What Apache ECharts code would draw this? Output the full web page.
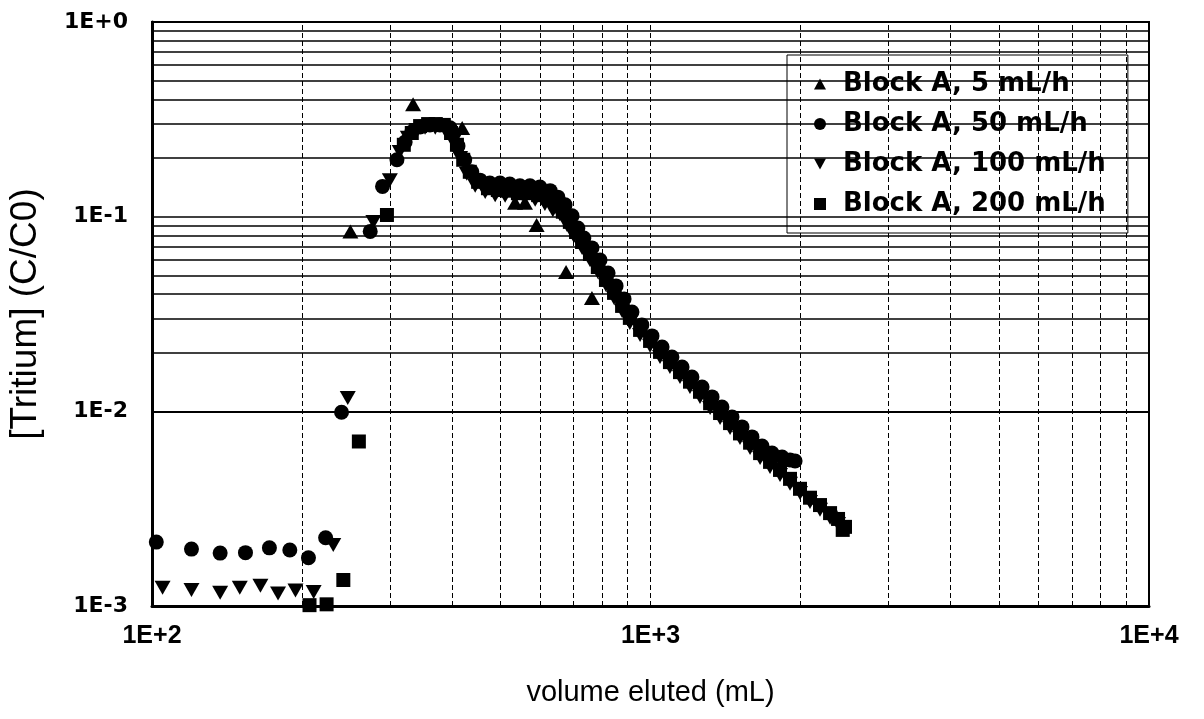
<!DOCTYPE html>
<html>
<head>
<meta charset="utf-8">
<script src="https://cdn.jsdelivr.net/npm/echarts@6/dist/echarts.min.js"></script>
<style>
html,body{margin:0;padding:0;background:#fff;}
#chart{width:1204px;height:719px;}
</style>
</head>
<body>
<div id="chart"></div>
<script>
// ---- data (volume eluted mL, C/C0) ----
const seriesNames = ['Block A, 5 mL/h', 'Block A, 50 mL/h', 'Block A, 100 mL/h', 'Block A, 200 mL/h'];

const blockA5 = [[250,0.0838],[334,0.378],[419,0.2855],[535,0.118],[560,0.118],[591,0.0907],[677,0.052],[763,0.0382]];

const blockA50 = [[102,0.00213],[120,0.00196],[137,0.00187],[154,0.00188],[172,0.00199],[189,0.00194],[206,0.00177],[223,0.00224],
  [240,0.0099],[274,0.084],[290,0.143],[310,0.196],[322,0.242],[332,0.272],[345,0.289],[361,0.296],[378,0.296],[396,0.286],
  [411,0.231],[424,0.196],[438,0.170],[455,0.154],[476,0.149],[499,0.149],[522,0.147],[547,0.144],[573,0.144],[600,0.142],
  [629,0.136],[652,0.126],[674,0.115],[696,0.101],[715,0.0875],[735,0.0777],[763,0.0691],[792,0.0599],[822,0.0514],[853,0.0441],
  [885,0.0378],[918,0.0324],[961,0.0278],[1007,0.0244],[1055,0.0214],[1104,0.0190],[1157,0.0169],[1211,0.0150],[1269,0.01334],
  [1329,0.01186],[1391,0.01053],[1457,0.00936],[1526,0.00832],[1598,0.00739],[1674,0.00664],[1753,0.00611],[1836,0.00583],
  [1905,0.00563],[1950,0.00556]];

const blockA100 = [[105,0.00124],[120,0.00121],[137,0.00117],[150,0.00124],[165,0.00127],[179,0.00116],[194,0.0012],[211,0.00118],
  [231,0.00206],[247,0.0117],[278,0.094],[300,0.154],[314,0.215],[326,0.254],[339,0.279],[353,0.286],[370,0.286],[387,0.279],
  [402,0.242],[415,0.200],[428,0.166],[445,0.144],[466,0.134],[488,0.129],[511,0.128],[535,0.125],[560,0.125],[587,0.122],
  [614,0.116],[637,0.108],[658,0.103],[680,0.0907],[702,0.0796],[729,0.0691],[756,0.0599],[784,0.052],[814,0.0446],[845,0.0382],
  [877,0.0328],[909,0.0284],[953,0.0247],[998,0.0217],[1045,0.0190],[1094,0.0169],[1146,0.0150],[1200,0.01334],[1257,0.01186],
  [1317,0.01041],[1379,0.00925],[1444,0.00822],[1512,0.0073],[1584,0.00649],[1659,0.00576],[1737,0.00518],[1819,0.00471],
  [1905,0.00424],[1995,0.00381],[2089,0.00342],[2188,0.00312],[2292,0.00284],[2378,0.00264]];

const blockA200 = [[207,0.00101],[224,0.00102],[242,0.00136],[260,0.0070],[296,0.102],[320,0.234],[332,0.269],[345,0.292],
  [358,0.299],[371,0.299],[385,0.296],[398,0.269],[409,0.234],[421,0.196],[434,0.170],[451,0.151],[472,0.140],[494,0.137],
  [518,0.136],[542,0.132],[568,0.132],[595,0.129],[623,0.125],[646,0.116],[667,0.106],[689,0.094],[709,0.0834],[729,0.0741],
  [756,0.0643],[784,0.0551],[814,0.0473],[845,0.0406],[877,0.0348],[909,0.0302],[953,0.0262],[998,0.0230],[1045,0.0202],
  [1094,0.0179],[1146,0.0159],[1200,0.0142],[1257,0.0126],[1317,0.0110],[1379,0.0098],[1444,0.0087],[1512,0.0077],[1584,0.0069],
  [1659,0.0061],[1737,0.0055],[1819,0.0050],[1905,0.0045],[1995,0.0040],[2089,0.0036],[2188,0.0033],[2292,0.0030],[2378,0.0028],
  [2430,0.00246],[2456,0.00255]];

// axis tick / grid values
const xGridValues = [200,300,400,500,600,700,800,900,1000,2000,3000,4000,5000,6000,7000,8000,9000];
const yGridValues = [0.002,0.003,0.004,0.005,0.006,0.007,0.008,0.009,0.01,0.02,0.03,0.04,0.05,0.06,0.07,0.08,0.09,0.1,0.2,0.3,0.4,0.5,0.6,0.7,0.8,0.9];
const xTickLabels = {100:'1E+2', 1000:'1E+3', 10000:'1E+4'};
const yTickLabels = {1:'1E+0', 0.1:'1E-1', 0.01:'1E-2', 0.001:'1E-3'};

// ---- chart ----
const chart = echarts.init(document.getElementById('chart'), null, {renderer:'canvas'});
const downTri = 'path://M0,0 L10,0 L5,9 Z';
const upTri = 'path://M5,0 L10,9 L0,9 Z';

function fmt(map){
  return function(v){
    for (const k in map){ if (Math.abs(Math.log10(v) - Math.log10(+k)) < 1e-6) return map[k]; }
    return '';
  };
}
const mark = {color:'#000', opacity:1};

const option = {
  animation:false,
  backgroundColor:'#fff',
  grid:{left:152, top:22, width:997, height:584, show:true, borderColor:'#000', borderWidth:2, backgroundColor:'#fff',
        containLabel:false, outerBoundsMode:'none'},
  legend:{
    data:[
      {name:seriesNames[0], icon:upTri},
      {name:seriesNames[1], icon:'circle'},
      {name:seriesNames[2], icon:downTri},
      {name:seriesNames[3], icon:'rect'}
    ],
    orient:'vertical', left:787, top:55,
    padding:[16,22,16,27],
    itemWidth:12, itemHeight:12, itemGap:14,
    backgroundColor:'#fff', borderColor:'#000', borderWidth:1,
    textStyle:{fontFamily:'DejaVu Sans', fontWeight:'bold', fontSize:26, color:'#000', lineHeight:26, padding:[0,0,0,12]},
    selectedMode:false
  },
  xAxis:{
    type:'log', logBase:10, min:100, max:10000,
    axisLine:{show:true, lineStyle:{color:'#000', width:3}},
    axisTick:{show:false},
    splitLine:{show:false},
    axisLabel:{formatter:fmt(xTickLabels), fontFamily:'Liberation Sans', fontWeight:'bold', fontSize:25, color:'#000', margin:18, showMinLabel:true, showMaxLabel:true},
    name:'volume eluted (mL)', nameLocation:'middle', nameGap:72,
    nameTextStyle:{fontFamily:'Liberation Sans', fontSize:29, color:'#000'}
  },
  yAxis:{
    type:'log', logBase:10, min:0.001, max:1,
    axisLine:{show:true, lineStyle:{color:'#000', width:3}},
    axisTick:{show:false},
    splitLine:{show:false},
    axisLabel:{formatter:fmt(yTickLabels), fontFamily:'DejaVu Sans', fontWeight:'bold', fontSize:22, color:'#000', margin:24},
    name:'[Tritium] (C/C0)', nameLocation:'middle', nameGap:108, nameRotate:90,
    nameTextStyle:{fontFamily:'Liberation Sans', fontSize:37, color:'#000'}
  },
  series:[
    {
      type:'scatter', name:'grid', data:[], silent:true, z:1,
      markLine:{
        silent:true, symbol:['none','none'], label:{show:false}, animation:false,
        data: xGridValues.map(v=>({xAxis:v, lineStyle:{color:'#000', width:1, type:[5,3]}}))
          .concat(yGridValues.map(v=>({yAxis:v, lineStyle:{color:'#000', width:1.5, type:'solid'}})))
      }
    },
    {type:'scatter', name:seriesNames[0], data:blockA5, symbol:upTri, symbolSize:[16,14], itemStyle:mark, z:3},
    {type:'scatter', name:seriesNames[1], data:blockA50, symbol:'circle', symbolSize:15, itemStyle:mark, z:4},
    {type:'scatter', name:seriesNames[2], data:blockA100, symbol:downTri, symbolSize:[16,14], itemStyle:mark, z:4},
    {type:'scatter', name:seriesNames[3], data:blockA200, symbol:'rect', symbolSize:14, itemStyle:mark, z:4}
  ]
};
chart.setOption(option);
</script>
</body>
</html>
